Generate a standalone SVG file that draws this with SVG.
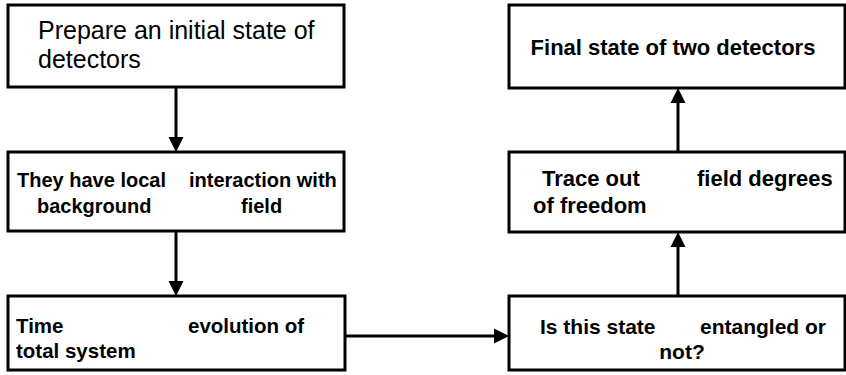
<svg xmlns="http://www.w3.org/2000/svg" width="846" height="375" viewBox="0 0 846 375">
<style>
.box{fill:#fff;stroke:#000;stroke-width:3}
.t{font-family:"Liberation Sans",Arial,sans-serif;fill:#000}
.r{font-size:25px}
.b{font-weight:bold}
.conn{stroke:#000;stroke-width:3;fill:none;marker-end:url(#ah)}
</style>
<defs>
<marker id="ah" markerUnits="userSpaceOnUse" markerWidth="18" markerHeight="18" viewBox="0 -9 18 18" refX="0" refY="0" orient="auto">
<path d="M0,-7.5 L15,0 L0,7.5 z" fill="#000"/>
</marker>
</defs>
<rect width="846" height="375" fill="#fff"/>
<g id="connectors">
<path class="conn" d="M176,87 V137"/>
<path class="conn" d="M176,231 V281"/>
<path class="conn" d="M345,336 H494"/>
<path class="conn" d="M678,296 V247"/>
<path class="conn" d="M678,152 V103"/>
</g>
<g id="n1">
<rect class="box" x="8" y="5" width="336" height="82"/>
<text class="t r" x="38" y="39">Prepare an initial state of</text>
<text class="t r" x="38" y="68">detectors</text>
</g>
<g id="n2">
<rect class="box" x="8" y="152" width="336" height="79"/>
<text class="t b" font-size="20" x="17" y="187">They have local</text>
<text class="t b" font-size="20" x="189" y="187">interaction with</text>
<text class="t b" font-size="20" x="37" y="213">background</text>
<text class="t b" font-size="20" x="241" y="213">field</text>
</g>
<g id="n3">
<rect class="box" x="8" y="296" width="337" height="74"/>
<text class="t b" font-size="20.5" x="16" y="333">Time</text>
<text class="t b" font-size="20.5" x="188" y="333">evolution of</text>
<text class="t b" font-size="20.5" x="16" y="358">total system</text>
</g>
<g id="n4">
<rect class="box" x="509" y="296" width="336" height="74"/>
<text class="t b" font-size="21" x="540" y="334">Is this state</text>
<text class="t b" font-size="21" x="700" y="334">entangled or</text>
<text class="t b" font-size="21" x="682" y="359" text-anchor="middle">not?</text>
</g>
<g id="n5">
<rect class="box" x="509" y="152" width="336" height="80"/>
<text class="t b" font-size="22" x="542" y="186">Trace out</text>
<text class="t b" font-size="22" x="697" y="186">field degrees</text>
<text class="t b" font-size="22" x="533" y="213">of freedom</text>
</g>
<g id="n6">
<rect class="box" x="509" y="5" width="336" height="83"/>
<text class="t b" font-size="22" x="673" y="55" text-anchor="middle">Final state of two detectors</text>
</g>
</svg>
